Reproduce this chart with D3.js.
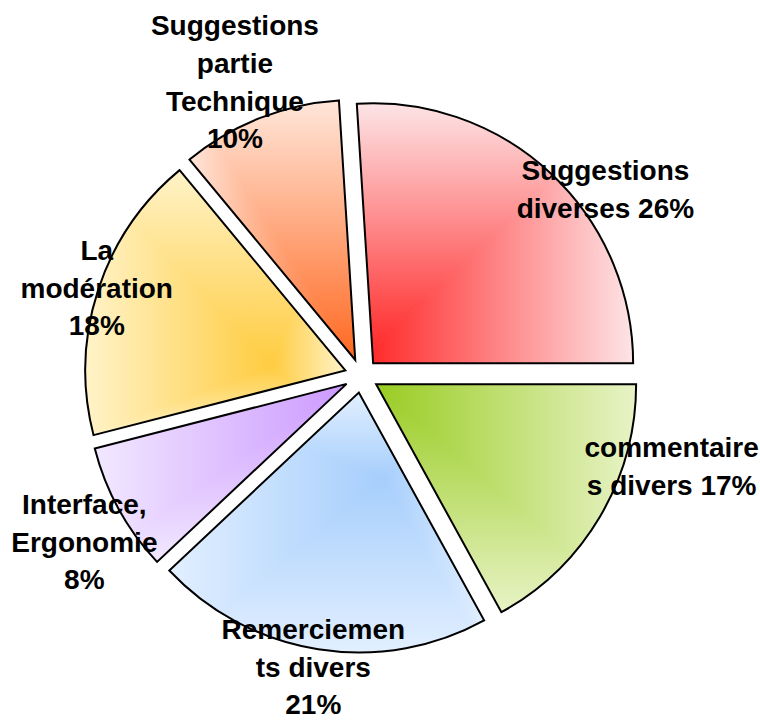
<!DOCTYPE html>
<html>
<head>
<meta charset="utf-8">
<script src="https://cdn.jsdelivr.net/npm/d3@7"></script>
<style>
  html, body { margin: 0; padding: 0; background: #ffffff; }
  svg { display: block; }
  text { font-family: "Liberation Sans", Arial, "DejaVu Sans", sans-serif; font-weight: bold; }
</style>
</head>
<body>
<svg id="chart" width="760" height="722"></svg>
<script>
// ---- data ----
const categories = ["Suggestions diverses", "commentaires divers", "Remerciements divers",
                    "Interface, Ergonomie", "La modération", "Suggestions partie Technique"];
const values = [26, 17, 21, 8, 18, 10];
// label wrapping as displayed ("%" is replaced by the value)
const labelWrap = ["Suggestions|diverses %", "commentaire|s divers %", "Remerciemen|ts divers|%",
                   "Interface,|Ergonomie|%", "La|modération|%", "Suggestions|partie|Technique|%"];

// ---- styles / layout ----
const darkColors  = ["#ff2020", "#99cc22", "#a6cefc", "#cc99ff", "#ffcc40", "#ff6820"];
const lightColors = ["#fde4e6", "#e8f3c6", "#e2efff", "#f2e8ff", "#fff3c8", "#ffe6da"];
const gradientFocus = [[0, 1], [0, 0], [0.68, 0.33], [1, 0], [0.72, 0.74], [1, 1]];
const labelPolar = [[52.6, 307], [106.2, 323], [189.4, 295], [239.1, 323], [288.4, 279], [336.7, 320]];

const W = 760, H = 722;
const cx = 361.5, cy = 375.7, R = 260, explode = 17;
const lineH = 37.7, fontSize = 28;

const svg = d3.select("#chart");
svg.append("rect").attr("width", W).attr("height", H).attr("fill", "#fff");
const defs = svg.append("defs");

const total = d3.sum(values);
const start = Math.PI / 2 - values[0] / total * 2 * Math.PI;
const pie = d3.pie().sort(null).value(d => d).startAngle(start).endAngle(start + 2 * Math.PI);
const arcs = pie(values);
const arc = d3.arc().innerRadius(0).outerRadius(R);

const root = svg.append("g").attr("transform", `translate(${cx},${cy})`);

arcs.forEach((a, i) => {
  const mid = (a.startAngle + a.endAngle) / 2;
  const ox = explode * Math.sin(mid), oy = -explode * Math.cos(mid);
  const g = root.append("g").attr("transform", `translate(${ox},${oy})`);
  const dPath = arc(a);

  const clipId = "clip" + i;
  defs.append("clipPath").attr("id", clipId).append("path").attr("d", dPath);

  const tmp = g.append("path").attr("d", dPath).attr("fill", "none");
  const bb = tmp.node().getBBox();
  tmp.remove();
  const x0 = bb.x, y0 = bb.y, x1 = bb.x + bb.width, y1 = bb.y + bb.height;
  const fx = x0 + gradientFocus[i][0] * bb.width;
  const fy = y0 + gradientFocus[i][1] * bb.height;

  const fillG = g.append("g").attr("clip-path", `url(#${clipId})`);
  const tris = [
    {pts: [[fx, fy], [x0, y0], [x1, y0]], gx1: 0, gy1: fy, gx2: 0, gy2: y0, dir: "v"},
    {pts: [[fx, fy], [x0, y1], [x1, y1]], gx1: 0, gy1: fy, gx2: 0, gy2: y1, dir: "v"},
    {pts: [[fx, fy], [x0, y0], [x0, y1]], gx1: fx, gy1: 0, gx2: x0, gy2: 0, dir: "h"},
    {pts: [[fx, fy], [x1, y0], [x1, y1]], gx1: fx, gy1: 0, gx2: x1, gy2: 0, dir: "h"}
  ];
  tris.forEach((t, k) => {
    const p = t.pts;
    const area = Math.abs((p[1][0] - p[0][0]) * (p[2][1] - p[0][1]) - (p[2][0] - p[0][0]) * (p[1][1] - p[0][1])) / 2;
    if (area < 1) return;
    const gid = `grad${i}_${k}`;
    const lg = defs.append("linearGradient").attr("id", gid)
      .attr("gradientUnits", "userSpaceOnUse")
      .attr("x1", t.dir === "h" ? t.gx1 : 0).attr("y1", t.dir === "v" ? t.gy1 : 0)
      .attr("x2", t.dir === "h" ? t.gx2 : 0).attr("y2", t.dir === "v" ? t.gy2 : 0);
    lg.append("stop").attr("offset", 0).attr("stop-color", darkColors[i]);
    lg.append("stop").attr("offset", 1).attr("stop-color", lightColors[i]);
    fillG.append("polygon")
      .attr("points", p.map(q => q.join(",")).join(" "))
      .attr("fill", `url(#${gid})`)
      .attr("stroke", `url(#${gid})`)
      .attr("stroke-width", 1);
  });

  g.append("path").attr("d", dPath)
    .attr("fill", "none").attr("stroke", "#000").attr("stroke-width", 2)
    .attr("stroke-linejoin", "miter");
});

// labels
const labels = svg.append("g");
arcs.forEach((a, i) => {
  const ang = labelPolar[i][0] * Math.PI / 180, r = labelPolar[i][1];
  const ax = cx + r * Math.sin(ang), ay = cy - r * Math.cos(ang);
  const lines = labelWrap[i].replace("%", values[i] + "%").split("|");
  const t = labels.append("text")
    .attr("text-anchor", "middle")
    .attr("font-size", fontSize)
    .attr("fill", "#000");
  lines.forEach((ln, k) => {
    t.append("tspan").attr("x", ax)
      .attr("y", ay - (lines.length - 1) * lineH / 2 + k * lineH + 10)
      .text(ln);
  });
});
</script>
</body>
</html>
